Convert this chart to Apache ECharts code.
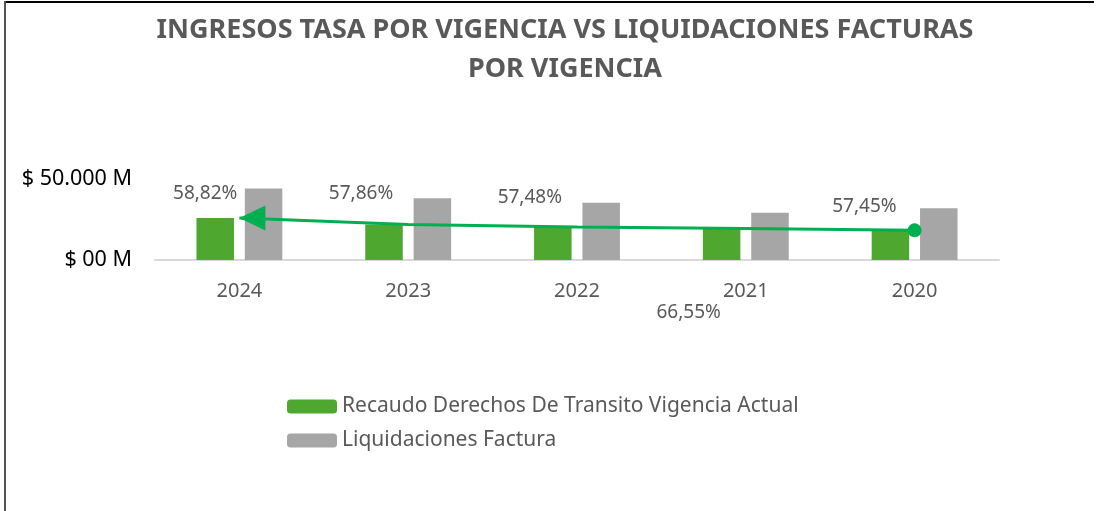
<!DOCTYPE html>
<html>
<head>
<meta charset="utf-8">
<script src="https://cdn.jsdelivr.net/npm/echarts@6/dist/echarts.min.js"></script>
<style>
  html, body { margin: 0; padding: 0; background: #fff; }
  #chart { width: 1102px; height: 511px; }
</style>
</head>
<body>
<div id="chart"></div>
<script>
const years = ["2024", "2023", "2022", "2021", "2020"];
// millones de pesos
const recaudo = [26000, 21900, 20350, 19400, 18300];
const liquidaciones = [44200, 38100, 35400, 29200, 31900];
const porcentajes = ["58,82%", "57,86%", "57,48%", "66,55%", "57,45%"];
const yTicks = { 0: "$ 00 M", 50000: "$ 50.000 M" };

// posicion manual de cada etiqueta de %, como en el original
const labelOffsets = [[-10, -15], [-23, -21], [-23, -20], [-33, 94], [-26, -14]];

const GREEN = "#4EA72E";
const GRAY = "#A6A6A6";
const LINE = "#00B050";
const TXT = "#595959";
const FONT = "Noto Sans";

const chart = echarts.init(document.getElementById("chart"));

const option = {
  backgroundColor: "#fff",
  textStyle: { fontFamily: FONT },
  title: {
    text: "INGRESOS TASA POR VIGENCIA VS LIQUIDACIONES FACTURAS\nPOR VIGENCIA",
    left: 560,
    top: 6,
    textAlign: "center",
    textStyle: {
      fontFamily: FONT,
      fontSize: 27,
      fontWeight: "bold",
      color: TXT,
      lineHeight: 39,
    },
  },
  grid: {
    left: 155,
    right: 103,
    top: 179,
    bottom: 251,
    containLabel: false,
  },
  legend: {
    orient: "vertical",
    left: 287,
    top: 396,
    padding: 0,
    itemWidth: 50,
    itemHeight: 14,
    itemGap: 13,
    data: ["Recaudo Derechos De Transito Vigencia Actual", "Liquidaciones Factura"],
    textStyle: { fontSize: 21, color: TXT },
  },
  xAxis: {
    type: "category",
    data: years,
    axisLine: { lineStyle: { color: "#D9D9D9", width: 2 } },
    axisTick: { show: false },
    axisLabel: { fontSize: 20, color: TXT, margin: 21 },
  },
  yAxis: {
    type: "value",
    min: 0,
    max: 50000,
    interval: 50000,
    axisLine: { show: false },
    axisTick: { show: false },
    splitLine: { show: false },
    axisLabel: {
      fontSize: 21.5,
      color: "#000",
      margin: 23,
      formatter: (v) => yTicks[v],
    },
  },
  series: [
    {
      name: "Recaudo Derechos De Transito Vigencia Actual",
      type: "bar",
      barWidth: 37.5,
      barGap: "29%",
      itemStyle: { color: GREEN },
      data: recaudo.map((v, i) => ({
        value: v,
        label: {
          show: true,
          position: "top",
          distance: 0,
          offset: labelOffsets[i],
          formatter: porcentajes[i],
          fontSize: 19,
          color: TXT,
        },
      })),
      z: 2,
    },
    {
      name: "Liquidaciones Factura",
      type: "bar",
      barWidth: 37.5,
      itemStyle: { color: GRAY },
      data: liquidaciones,
      z: 2,
    },
    {
      name: "Tendencia",
      type: "line",
      data: recaudo.map((v, i) => {
        if (i === 0) {
          return {
            value: v,
            symbol: "triangle",
            symbolSize: [25, 26],
            symbolRotate: 90,
            symbolOffset: [13, 0],
          };
        }
        if (i === recaudo.length - 1) {
          return { value: v, symbol: "circle", symbolSize: 14 };
        }
        return { value: v, symbol: "none" };
      }),
      lineStyle: { color: LINE, width: 3 },
      itemStyle: { color: LINE, borderWidth: 0 },
      silent: true,
      z: 5,
    },
  ],
  graphic: [
    {
      type: "line",
      shape: { x1: 5, y1: 2, x2: 1094, y2: 2 },
      style: { stroke: "#000", lineWidth: 2 },
    },
    {
      type: "line",
      shape: { x1: 5, y1: 1, x2: 5, y2: 511 },
      style: { stroke: "#555", lineWidth: 2 },
    },
  ],
};

chart.setOption(option);
</script>
</body>
</html>
